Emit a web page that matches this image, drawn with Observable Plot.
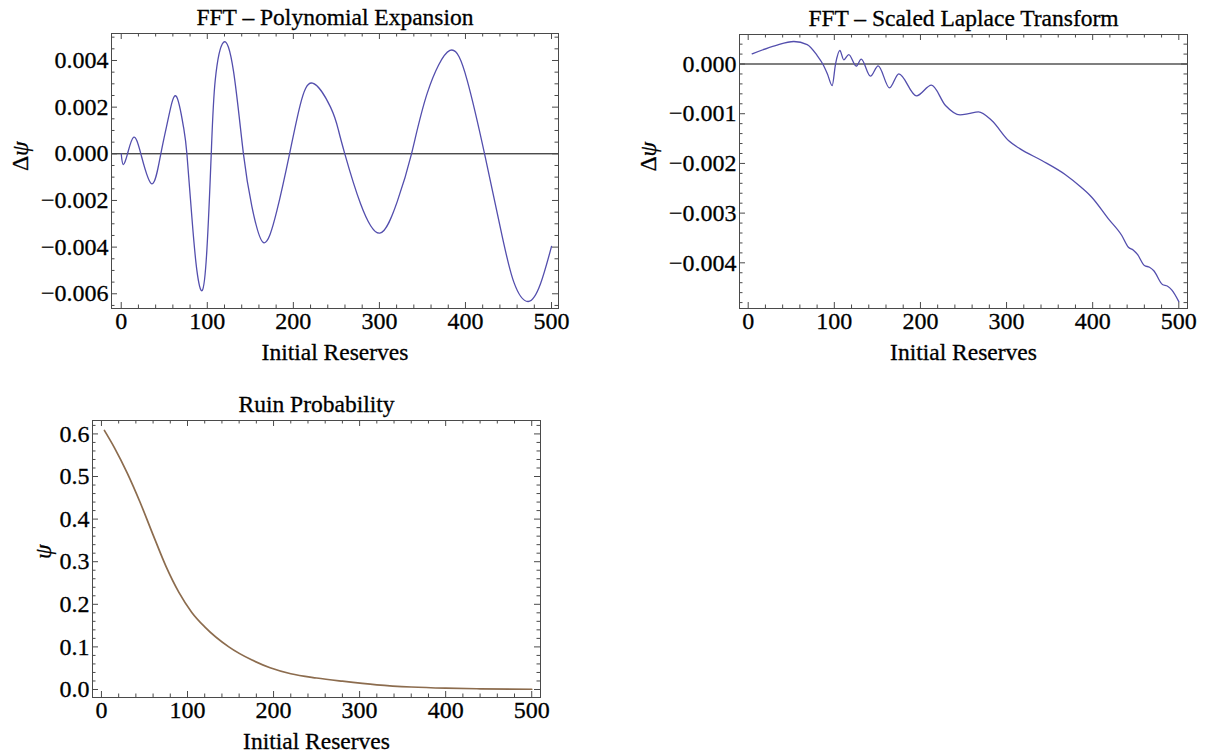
<!DOCTYPE html>
<html>
<head>
<meta charset="utf-8">
<script src="https://cdn.jsdelivr.net/npm/d3@7"></script>
<script src="https://cdn.jsdelivr.net/npm/@observablehq/plot@0.6"></script>
<style>
  body { margin: 0; background: #fff; }
  #root { position: relative; width: 1223px; height: 756px; overflow: hidden; background: #fff; }
  .panel { position: absolute; }
  .panel svg text { stroke: #000; stroke-width: 0.3px; font-family: 'Liberation Serif', 'Times New Roman', Times, serif; }
</style>
</head>
<body>
<div id="root"></div>
<script>
// ---------------- data ----------------
const xLabel = "Initial Reserves";

// Panel 1: FFT – Polynomial Expansion (Δψ)
const polyTitle = "FFT \u2013 Polynomial Expansion";
const polyX = [0, 2.3, 7.3, 14.3, 22.8, 35.6, 46.0, 55.0, 63.9, 72.4, 76.3, 82.1, 87.9, 94.1, 99.5, 104.6, 109.2, 118.9, 130.5, 142.0, 151.8, 165.4, 180.8, 195.6, 208.0, 222.3, 243.2, 252.5, 259.8, 278.1, 300.5, 320.7, 337.3, 355.6, 381.9, 402.0, 422.2, 440.7, 456.2, 472.9, 487.2, 500];
const polyY = [0, -0.00046, 0, 0.00071, 0, -0.00129, 0, 0.00157, 0.00247, 0.00114, 0, -0.00272, -0.0050, -0.00586, -0.00414, 0, 0.00314, 0.00478, 0.00353, 0, -0.00225, -0.00381, -0.00245, 0, 0.00210, 0.00303, 0.0020, 0.0010, 0, -0.00214, -0.00340, -0.00205, 0, 0.00260, 0.00443, 0.00315, 0, -0.0032, -0.00550, -0.00633, -0.00557, -0.00397];
const polyYTicks = [-0.006, -0.004, -0.002, 0, 0.002, 0.004];

// Panel 2: FFT – Scaled Laplace Transform (Δψ)
const lapTitle = "FFT \u2013 Scaled Laplace Transform";
const lapX = [4.6, 31.7, 53.0, 68.5, 80.1, 86.6, 92.0, 97.5, 101.4, 106.4, 111.0, 116.8, 125.4, 131.2, 142.0, 150.9, 164.1, 174.9, 195.4, 212.8, 229.1, 246.0, 255.8, 267.4, 282.8, 302.2, 315.8, 340.9, 368.0, 387.3, 398.9, 418.3, 433.8, 441.5, 447.0, 452.0, 460.1, 466.0, 471.0, 481.0, 487.0, 492.0, 500.0];
const lapY = [0.000205, 0.000372, 0.000453, 0.000392, 0.000171, 0, -0.0002, -0.000433, 0, 0.000272, 0.000084, 0.000191, -0.000044, 0.000097, -0.000245, -0.000037, -0.000479, -0.000198, -0.00064, -0.000426, -0.000835, -0.001025, -0.0010, -0.000962, -0.001137, -0.001539, -0.001707, -0.001942, -0.002223, -0.002491, -0.00268, -0.003115, -0.00345, -0.003686, -0.00374, -0.00383, -0.004054, -0.00409, -0.00416, -0.004437, -0.00447, -0.00455, -0.00478];
const lapYTicks = [-0.004, -0.003, -0.002, -0.001, 0];

// Panel 3: Ruin Probability (ψ)
const ruinTitle = "Ruin Probability";
const ruinX = [3.5, 15, 30, 45, 60, 75, 90, 105, 120, 148, 175, 196, 220, 250, 280, 320, 360, 400, 440, 500];
const ruinY = [0.608, 0.568, 0.508, 0.439, 0.363, 0.289, 0.228, 0.181, 0.147, 0.1, 0.069, 0.051, 0.037, 0.027, 0.0195, 0.011, 0.0058, 0.003, 0.0016, 0.0006];
const ruinYTicks = [0, 0.1, 0.2, 0.3, 0.4, 0.5, 0.6];

const xTicks = [0, 100, 200, 300, 400, 500];

// ---------------- drawing ----------------
const FONT = "'Liberation Serif', 'Times New Roman', Times, serif";
const FS_TICK = 24;
const FS_LABEL = 23.5;
const FRAME = "#4a4a4a";

function panel(o) {
  const [mt, mr, mb, ml] = o.margin;
  const fw = o.width - ml - mr, fh = o.height - mt - mb;
  const xMinor = d3.range(0, 501, 20).filter(d => d % 100 !== 0);
  const idx = d3.range(o.xs.length);
  const svg = Plot.plot({
    width: o.width, height: o.height,
    marginTop: mt, marginRight: mr, marginBottom: mb, marginLeft: ml,
    x: {domain: o.xDomain},
    y: {domain: o.yDomain},
    style: {fontFamily: FONT, fontSize: FS_TICK + "px", color: "#000", background: "transparent", overflow: "visible"},
    marks: [
      o.zero ? Plot.ruleY([0], {stroke: o.zero.stroke, strokeWidth: o.zero.width}) : null,
      Plot.line(idx, {x: i => o.xs[i], y: i => o.ys[i], curve: o.curve, stroke: o.stroke, strokeWidth: o.strokeWidth, strokeLinejoin: "round"}),
      // inward frame ticks (bottom / top)
      Plot.tickX(xTicks, {x: d => d, insetTop: fh - 6, stroke: FRAME}),
      Plot.tickX(xTicks, {x: d => d, insetBottom: fh - 6, stroke: FRAME}),
      Plot.tickX(xMinor, {x: d => d, insetTop: fh - 3.5, stroke: FRAME}),
      Plot.tickX(xMinor, {x: d => d, insetBottom: fh - 3.5, stroke: FRAME}),
      // inward frame ticks (left / right)
      Plot.tickY(o.yTicks, {y: d => d, insetRight: fw - 6, stroke: FRAME}),
      Plot.tickY(o.yTicks, {y: d => d, insetLeft: fw - 6, stroke: FRAME}),
      Plot.tickY(o.yMinor, {y: d => d, insetRight: fw - 3.5, stroke: FRAME}),
      Plot.tickY(o.yMinor, {y: d => d, insetLeft: fw - 3.5, stroke: FRAME}),
      Plot.frame({stroke: FRAME, strokeWidth: 1}),
      Plot.axisX(xTicks, {tickSize: 0, tickPadding: 3, tickFormat: d => String(d), label: null, fontSize: FS_TICK, fontFamily: FONT, fontVariant: "normal"}),
      Plot.axisY(o.yTicks, {tickSize: 0, tickPadding: 3, tickFormat: o.yFormat, label: null, fontSize: FS_TICK, fontFamily: FONT, fontVariant: "normal"}),
      Plot.text([o.title], {frameAnchor: "top", dy: -9, lineAnchor: "bottom", fontSize: FS_LABEL, fill: "#000"}),
      Plot.text([xLabel], {frameAnchor: "bottom", dy: 51, lineAnchor: "bottom", fontSize: FS_LABEL, fill: "#000"}),
      Plot.text([o.yLabel], {frameAnchor: "left", dx: o.yLabelDx, rotate: -90, lineAnchor: "middle", fontSize: FS_LABEL, fill: "#000"})
    ]
  });
  // italic psi in the y label
  d3.select(svg).selectAll("text, tspan").each(function () {
    if (this.childElementCount === 0 && (this.textContent === "\u0394\u03C8" || this.textContent === "\u03C8")) {
      const t = this.textContent;
      this.textContent = "";
      if (t.length === 2) d3.select(this).append("tspan").text("\u0394");
      d3.select(this).append("tspan").attr("font-style", "italic").text("\u03C8");
    }
  });
  const div = document.createElement("div");
  div.className = "panel";
  div.style.left = o.left + "px";
  div.style.top = o.top + "px";
  div.appendChild(svg);
  document.getElementById("root").appendChild(div);
}

const minor = (a, b, step, skip) => d3.range(a, b + 1).filter(i => i % skip !== 0).map(i => +(i * step).toFixed(6));

panel({
  left: 0, top: 0, width: 590, height: 375, margin: [33, 32, 67, 111],
  xDomain: [-11.3, 508.1], yDomain: [-0.006631, 0.005157],
  xs: polyX, ys: polyY, stroke: "#534ead", strokeWidth: 1.3, curve: "natural",
  yTicks: polyYTicks, yMinor: minor(-13, 10, 0.0005, 4), yFormat: d3.format(".3f"),
  title: polyTitle, yLabel: "\u0394\u03C8", yLabelDx: -91,
  zero: {stroke: "#000", width: 1}
});

panel({
  left: 625, top: 0, width: 598, height: 375, margin: [34, 36, 67, 114],
  xDomain: [-10.1, 510.1], yDomain: [-0.004919, 0.000594],
  xs: lapX, ys: lapY, stroke: "#534ead", strokeWidth: 1.3, curve: "monotone-x",
  yTicks: lapYTicks, yMinor: minor(-24, 2, 0.0002, 5), yFormat: d3.format(".3f"),
  title: lapTitle, yLabel: "\u0394\u03C8", yLabelDx: -91,
  zero: {stroke: "#555", width: 1.3}
});

panel({
  left: 0, top: 380, width: 590, height: 376, margin: [40, 50, 59, 92],
  xDomain: [-10.4, 510.2], yDomain: [-0.0188, 0.6315],
  xs: ruinX, ys: ruinY, stroke: "#8c6c4e", strokeWidth: 1.7, curve: "monotone-x",
  yTicks: ruinYTicks, yMinor: minor(0, 31, 0.02, 5), yFormat: d3.format(".1f"),
  title: ruinTitle, yLabel: "\u03C8", yLabelDx: -49,
  zero: null
});
</script>
</body>
</html>
